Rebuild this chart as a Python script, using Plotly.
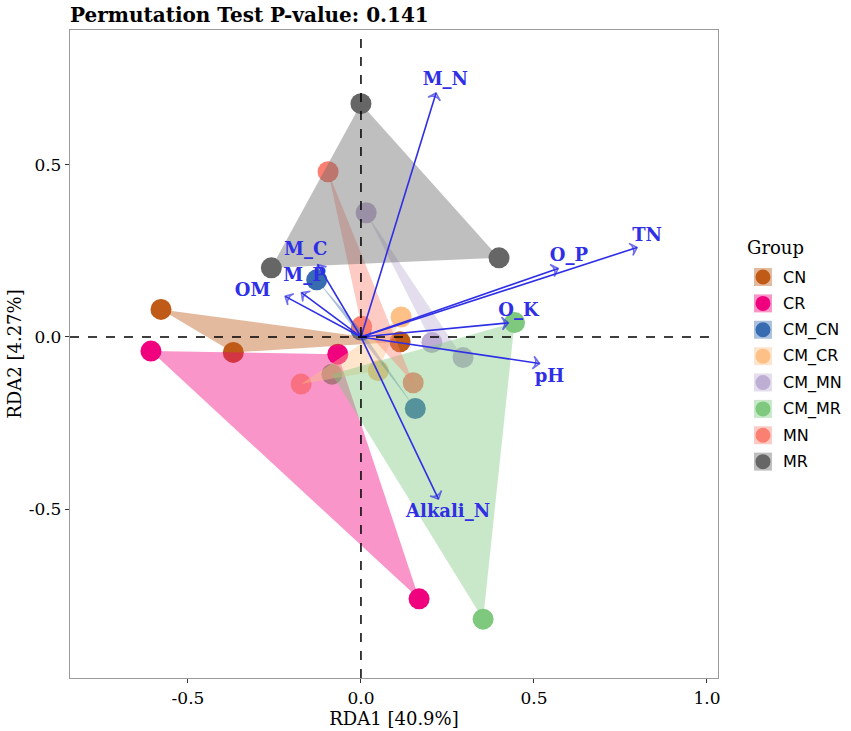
import plotly.graph_objects as go

# sample scores per group (RDA1, RDA2)
groups = ["CN", "CR", "CM_CN", "CM_CR", "CM_MN", "CM_MR", "MN", "MR"]
colors = ["#BF5B17", "#F0027F", "#386CB0", "#FDC086", "#BEAED4", "#7FC97F", "#FB8072", "#666666"]

CN_x = [-0.578, -0.369, 0.113]
CN_y = [0.080, -0.045, -0.014]
CR_x = [-0.607, -0.067, 0.168]
CR_y = [-0.041, -0.050, -0.761]
CM_CN_x = [-0.128, 0.157, 0.0]
CM_CN_y = [0.166, -0.208, 0.02]
CM_CR_x = [0.116, 0.050, -0.173]
CM_CR_y = [0.058, -0.098, -0.137]
CM_MN_x = [0.015, 0.205, 0.295]
CM_MN_y = [0.361, -0.016, -0.060]
CM_MR_x = [0.444, 0.353, -0.084]
CM_MR_y = [0.042, -0.820, -0.108]
MN_x = [-0.095, 0.002, 0.151]
MN_y = [0.480, 0.031, -0.133]
MR_x = [0.0, -0.259, 0.399]
MR_y = [0.678, 0.201, 0.230]

# environmental arrows
env = ["M_N", "TN", "O_P", "O_K", "M_C", "M_P", "OM", "pH", "Alkali_N"]
env_x = [0.217, 0.798, 0.570, 0.426, -0.125, -0.172, -0.219, 0.516, 0.224]
env_y = [0.709, 0.260, 0.199, 0.041, 0.210, 0.129, 0.118, -0.077, -0.471]
lab_x = [0.244, 0.827, 0.601, 0.455, -0.160, -0.163, -0.313, 0.545, 0.252]
lab_y = [0.744, 0.293, 0.234, 0.075, 0.250, 0.176, 0.131, -0.118, -0.509]

xticks = [-0.5, 0.0, 0.5, 1.0]
xtick_text = ["-0.5", "0.0", "0.5", "1.0"]
yticks = [-0.5, 0.0, 0.5]
ytick_text = ["-0.5", "0.0", "0.5"]

pts = {
    "CN": (CN_x, CN_y), "CR": (CR_x, CR_y), "CM_CN": (CM_CN_x, CM_CN_y),
    "CM_CR": (CM_CR_x, CM_CR_y), "CM_MN": (CM_MN_x, CM_MN_y),
    "CM_MR": (CM_MR_x, CM_MR_y), "MN": (MN_x, MN_y), "MR": (MR_x, MR_y),
}
arrow_col = "#2F2FE6"


def rgba(h, a):
    h = h.lstrip("#")
    return "rgba(%d,%d,%d,%s)" % (int(h[0:2], 16), int(h[2:4], 16), int(h[4:6], 16), a)


fig = go.Figure()

# points first, the hulls go over them (like geom_point then geom_polygon)
for g, c in zip(groups, colors):
    x, y = pts[g]
    fig.add_trace(go.Scatter(x=x, y=y, mode="markers", name=g, showlegend=False,
                             marker=dict(size=21, color=c)))

for g, c in zip(groups, colors):
    x, y = pts[g]
    fig.add_trace(go.Scatter(x=x, y=y, mode="lines", fill="toself", showlegend=False,
                             fillcolor=rgba(c, 0.42), line=dict(width=0),
                             hoverinfo="skip"))

# arrows
for i in range(len(env)):
    fig.add_trace(go.Scatter(x=[0, env_x[i]], y=[0, env_y[i]], mode="lines+markers",
                             showlegend=False, hoverinfo="skip",
                             line=dict(color=arrow_col, width=1.6),
                             marker=dict(symbol=["circle", "arrow-wide-open"], size=[0, 9],
                                         angleref="previous", color=arrow_col,
                                         line=dict(color=arrow_col, width=1.6))))

fig.add_trace(go.Scatter(x=lab_x, y=lab_y, text=env, mode="text", showlegend=False,
                         hoverinfo="skip",
                         textfont=dict(family="DejaVu Serif", size=18, color=arrow_col,
                                       weight="bold")))

fig.add_vline(x=0, line=dict(color="black", width=1.5, dash="dash"))
fig.add_hline(y=0, line=dict(color="black", width=1.5, dash="dash"))

# legend drawn by hand: circle over a light square, like ggplot
leg_x = 1.0694
leg_y0 = 0.6188
leg_step = 0.0407
fig.add_annotation(x=1.0417, y=0.665, xref="paper", yref="paper", text="Group",
                   showarrow=False, xanchor="left", yanchor="middle",
                   font=dict(family="DejaVu Serif", size=18, color="black"))
for i, (g, c) in enumerate(zip(groups, colors)):
    yc = leg_y0 - i * leg_step
    fig.add_shape(type="rect", xref="paper", yref="paper", xsizemode="pixel",
                  ysizemode="pixel", xanchor=leg_x, yanchor=yc, x0=-9, x1=9, y0=-9, y1=9,
                  fillcolor=rgba(c, 0.42), line=dict(width=0))
    fig.add_shape(type="circle", xref="paper", yref="paper", xsizemode="pixel",
                  ysizemode="pixel", xanchor=leg_x, yanchor=yc, x0=-7.5, x1=7.5,
                  y0=-7.5, y1=7.5, fillcolor=c, line=dict(width=0))
    fig.add_annotation(x=1.0972, y=yc, xref="paper", yref="paper", text=g,
                       showarrow=False, xanchor="left", yanchor="middle",
                       font=dict(family="DejaVu Sans", size=16, color="black"))

fig.update_layout(
    width=851, height=731,
    margin=dict(l=70, r=133, t=30, b=53),
    plot_bgcolor="white", paper_bgcolor="white",
    title=dict(text="<b>Permutation Test P-value: 0.141</b>", x=0.0, xanchor="left",
               xref="paper", y=0.9895, yanchor="top",
               font=dict(family="DejaVu Serif", size=20, color="black")),
    font=dict(family="DejaVu Serif", size=15, color="black"),
    showlegend=False,
)
fig.update_xaxes(range=[-0.841, 1.032], tickvals=xticks, ticktext=xtick_text,
                 showgrid=False, zeroline=False, showline=True, mirror=True,
                 linecolor="#9a9a9a", linewidth=1.3, ticks="outside", ticklen=4,
                 tickcolor="#333", title=dict(text="RDA1 [40.9%]", standoff=2),
                 tickfont=dict(family="DejaVu Serif", size=17), automargin=False)
fig.update_yaxes(range=[-0.991, 0.892], tickvals=yticks, ticktext=ytick_text,
                 showgrid=False, zeroline=False, showline=True, mirror=True,
                 linecolor="#9a9a9a", linewidth=1.3, ticks="outside", ticklen=4,
                 tickcolor="#333", title=dict(text="RDA2 [4.27%]", standoff=2),
                 tickfont=dict(family="DejaVu Serif", size=17), automargin=False)

# drop the default 8px page margin so the figure sits at the window corner
fig.write_html("out.html", config={"displayModeBar": False},
               post_script="document.body.style.margin='0px';")
